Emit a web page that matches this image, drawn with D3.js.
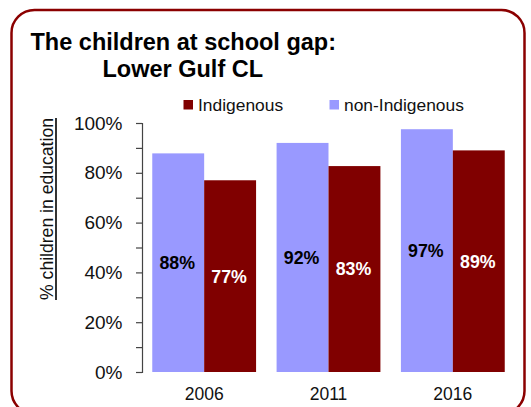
<!DOCTYPE html>
<html>
<head>
<meta charset="utf-8">
<script src="https://cdn.jsdelivr.net/npm/d3@7/dist/d3.min.js"></script>
<style>
  html, body { margin: 0; padding: 0; background: #fff; }
  svg { display: block; font-family: "Liberation Sans", Arial, Helvetica, sans-serif; }
</style>
</head>
<body>
<svg id="chart" width="531" height="407"></svg>
<script>
const categories = ["2006", "2011", "2016"];
const seriesNames = ["non-Indigenous", "Indigenous"];
const nonIndigenous = [87.8, 92, 97.5];
const indigenous = [77, 82.7, 89];
const valueLabels = { "non-Indigenous": ["88%", "92%", "97%"], "Indigenous": ["77%", "83%", "89%"] };
const yTicks = [0, 10, 20, 30, 40, 50, 60, 70, 80, 90, 100];
const colors = { "non-Indigenous": "#9999ff", "Indigenous": "#800000" };
const labelColors = { "non-Indigenous": "#000", "Indigenous": "#fff" };
const legendOrder = ["Indigenous", "non-Indigenous"];

const svg = d3.select("#chart");

// frame
svg.append("rect")
  .attr("x", 11.5).attr("y", 10).attr("width", 513).attr("height", 404)
  .attr("rx", 23).attr("ry", 23)
  .attr("fill", "none").attr("stroke", "#8b0000").attr("stroke-width", 2.5);

// title
svg.append("text").attr("x", 30.5).attr("y", 50)
  .attr("font-size", 23.5).attr("font-weight", "bold").attr("fill", "#000")
  .text("The children at school gap:");
svg.append("text").attr("x", 102.5).attr("y", 77.3)
  .attr("font-size", 23.5).attr("font-weight", "bold").attr("fill", "#000")
  .text("Lower Gulf CL");

const y = d3.scaleLinear().domain([0, 100]).range([372, 123]);
const x = d3.scaleBand().domain(categories).range([142, 515])
  .paddingInner(0.165).paddingOuter(0.0825);
const xs = d3.scaleBand().domain(seriesNames).range([0, x.bandwidth()]);

const data = categories.map((c, i) => ({
  cat: c,
  vals: [
    { s: "non-Indigenous", v: nonIndigenous[i], label: valueLabels["non-Indigenous"][i] },
    { s: "Indigenous", v: indigenous[i], label: valueLabels["Indigenous"][i] }
  ]
}));

const groups = svg.append("g").selectAll("g").data(data).join("g")
  .attr("transform", d => `translate(${x(d.cat)},0)`);

groups.selectAll("rect").data(d => d.vals).join("rect")
  .attr("x", d => xs(d.s)).attr("width", xs.bandwidth())
  .attr("y", d => y(d.v)).attr("height", d => y(0) - y(d.v))
  .attr("fill", d => colors[d.s]);

groups.selectAll("text.val").data(d => d.vals).join("text")
  .attr("class", "val")
  .attr("x", d => xs(d.s) + xs.bandwidth() / 2 - 1)
  .attr("y", d => y(d.v / 2))
  .attr("dy", "0.36em")
  .attr("text-anchor", "middle")
  .attr("font-size", 17.8).attr("font-weight", "bold")
  .attr("fill", d => labelColors[d.s])
  .text(d => d.label);

// y axis
const yAxis = d3.axisLeft(y).tickValues(yTicks).tickSize(6).tickPadding(13.5)
  .tickFormat(d => d % 20 === 0 ? d + "%" : "");
const ya = svg.append("g").attr("transform", "translate(142,0)").call(yAxis);
ya.select(".domain").attr("stroke", "#444").attr("stroke-width", 1.2);
ya.selectAll(".tick line").attr("stroke", "#444").attr("stroke-width", 1.2);
ya.selectAll(".tick text").attr("font-size", 19).attr("fill", "#111")
  .attr("font-family", "'Liberation Sans', Arial, sans-serif");

// x labels
const xa = d3.axisBottom(x).tickSize(0).tickPadding(0);
const xg = svg.append("g").attr("transform", "translate(0,385)").call(xa);
xg.select(".domain").remove();
xg.selectAll(".tick text").attr("font-size", 17.5).attr("fill", "#111")
  .attr("dy", "0.85em")
  .attr("font-family", "'Liberation Sans', Arial, sans-serif");

// y label
const yl = svg.append("g").attr("transform", "translate(53,209) rotate(-90)");
const ylt = yl.append("text").attr("text-anchor", "middle")
  .attr("font-size", 17.6).attr("fill", "#111")
  .text("% children in education");
const len = ylt.node().getComputedTextLength();
yl.append("line").attr("x1", -len / 2).attr("x2", len / 2)
  .attr("y1", 3).attr("y2", 3).attr("stroke", "#000").attr("stroke-width", 1.6);

// legend
const legendX = { "Indigenous": 183.5, "non-Indigenous": 329.5 };
const lg = svg.append("g").selectAll("g").data(legendOrder).join("g")
  .attr("transform", d => `translate(${legendX[d]},100)`);
lg.append("rect").attr("width", 9.5).attr("height", 9.5).attr("fill", d => colors[d]);
lg.append("text").attr("x", 14.5).attr("y", 11).attr("font-size", 17.4).attr("fill", "#111")
  .text(d => d);
</script>
</body>
</html>
